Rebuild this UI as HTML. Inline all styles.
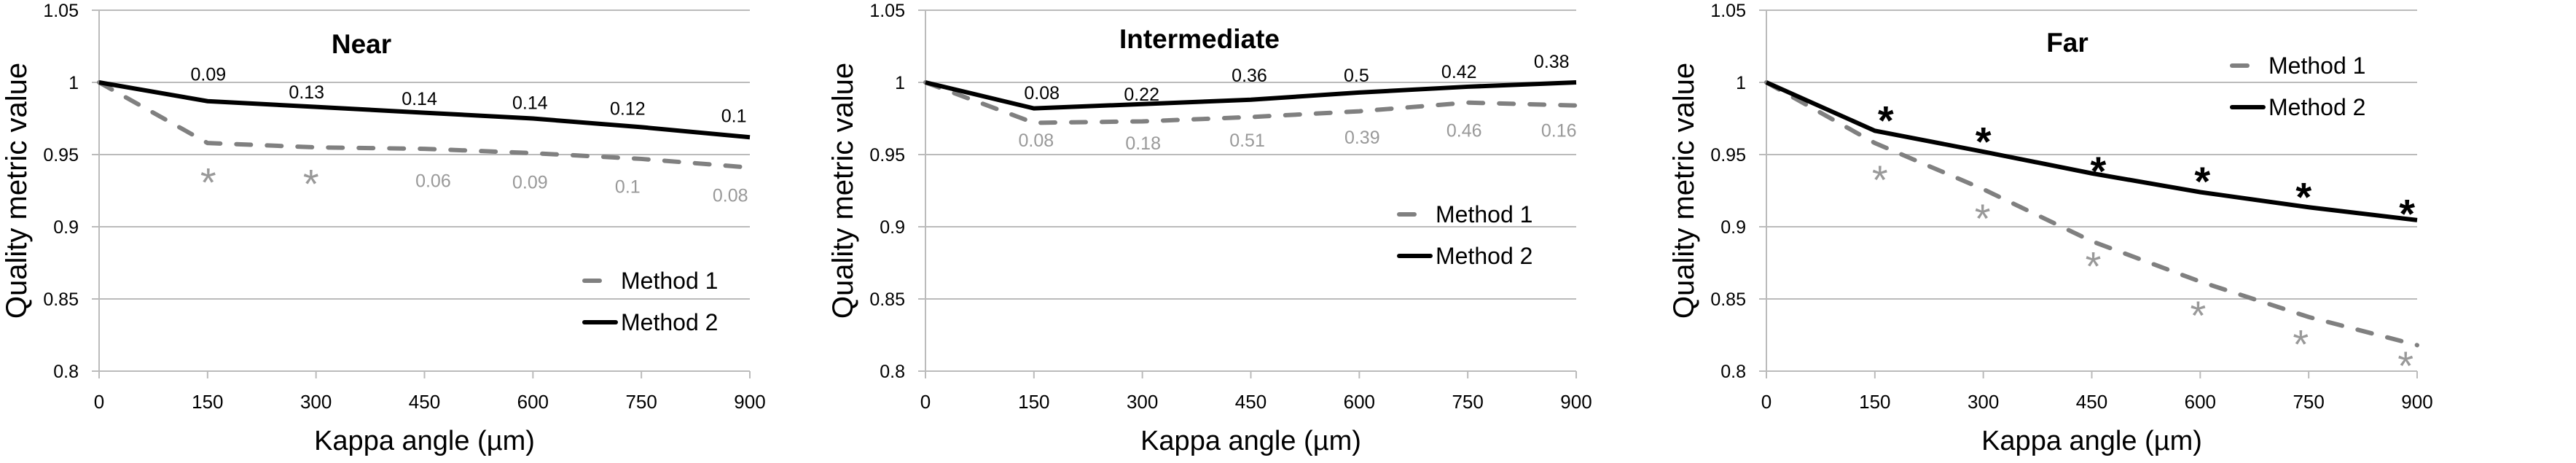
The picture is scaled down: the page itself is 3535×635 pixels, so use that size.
<!DOCTYPE html>
<html><head><meta charset="utf-8"><style>
html,body{margin:0;padding:0;background:#fff;}
svg{display:block;font-family:"Liberation Sans",Arial,sans-serif;}
</style></head><body>
<svg id="chart" width="3535" height="635" viewBox="0 0 3535 635" xmlns="http://www.w3.org/2000/svg"></svg>
<script>
const xTicks = [0,150,300,450,600,750,900];
const yTicks = [0.8,0.85,0.9,0.95,1,1.05];
const yTickLabels = ["0.8","0.85","0.9","0.95","1","1.05"];
const titles = ["Near","Intermediate","Far"];
const nearM1 = [1.0,0.958,0.955,0.954,0.951,0.947,0.941];
const nearM2 = [1.0,0.987,0.983,0.979,0.975,0.969,0.962];
const interM1 = [1.0,0.972,0.973,0.976,0.980,0.986,0.984];
const interM2 = [1.0,0.982,0.985,0.988,0.993,0.997,1.0];
const farM1 = [1.0,0.958,0.926,0.890,0.862,0.8375,0.818];
const farM2 = [1.0,0.9665,0.952,0.937,0.924,0.9135,0.9046];
const nearM2Labels = ["0.09","0.13","0.14","0.14","0.12","0.1"];
const nearM2LabelX = [151,287,443,596,731,878];
const nearM2LabelY = [1.0057,0.9934,0.989,0.986,0.982,0.977];
const nearM1Labels = ["*","*","0.06","0.09","0.1","0.08"];
const nearM1LabelX = [151,293,462,596,731,873];
const nearM1LabelY = [0.937,0.936,0.932,0.931,0.928,0.922];
const interM2Labels = ["0.08","0.22","0.36","0.5","0.42","0.38"];
const interM2LabelX = [161,299,448,596,738,866];
const interM2LabelY = [0.993,0.992,1.005,1.005,1.0077,1.0147];
const interM1Labels = ["0.08","0.18","0.51","0.39","0.46","0.16"];
const interM1LabelX = [153,301,445,604,745,876];
const interM1LabelY = [0.960,0.958,0.960,0.962,0.967,0.967];
const farM2Labels = ["*","*","*","*","*","*"];
const farM2LabelX = [165,300,459,603,743,886];
const farM2LabelY = [0.980,0.9655,0.945,0.938,0.927,0.9155];
const farM1Labels = ["*","*","*","*","*","*"];
const farM1LabelX = [157,299,452,597,739,884];
const farM1LabelY = [0.939,0.912,0.879,0.845,0.825,0.810];

const NS="http://www.w3.org/2000/svg";
const svg=document.getElementById('chart');
const panelX=[136,1270,2424], PW=893, YT=14, YB=509;
const titlePos=[[496,60],[1646,53],[2837,58]];
const legendPos=[[802,385],[1920,294],[3063,90]];
function yS(v){return YT+(1.05-v)/0.25*(YB-YT);}
function mk(tag,attrs,parent){const e=document.createElementNS(NS,tag);for(const k in attrs)e.setAttribute(k,attrs[k]);(parent||svg).appendChild(e);return e;}
const panels=[
 {m1:nearM1,m2:nearM2,l2:[nearM2Labels,nearM2LabelX,nearM2LabelY],l1:[nearM1Labels,nearM1LabelX,nearM1LabelY]},
 {m1:interM1,m2:interM2,l2:[interM2Labels,interM2LabelX,interM2LabelY],l1:[interM1Labels,interM1LabelX,interM1LabelY]},
 {m1:farM1,m2:farM2,l2:[farM2Labels,farM2LabelX,farM2LabelY],l1:[farM1Labels,farM1LabelX,farM1LabelY]}
];
panels.forEach((p,i)=>{
  const x0=panelX[i];
  const xS=v=>x0+v/900*PW;
  const g=mk('g',{});
  
  
  yTicks.forEach((t,j)=>{
    const gl=mk('line',{x1:x0-10,x2:x0+PW,y1:yS(t),y2:yS(t),stroke:'#bbb','stroke-width':2},g);
    
    
    const tl=mk('text',{x:x0-28,y:yS(t)+9,'text-anchor':'end','font-size':25,fill:'#000'},g);
    tl.textContent=yTickLabels[j];
    
    
  });
  const ax=mk('line',{x1:x0,x2:x0,y1:YT,y2:YB+10,stroke:'#bbb','stroke-width':2},g);
  
  
  xTicks.forEach(t=>{
    const tk=mk('line',{x1:xS(t),x2:xS(t),y1:YB,y2:YB+10,stroke:'#bbb','stroke-width':2},g);
    
    
    const tl=mk('text',{x:xS(t),y:560,'text-anchor':'middle','font-size':26,fill:'#000'},g);
    tl.textContent=String(t);
    
    
  });
  const xt=mk('text',{x:x0+PW/2,y:617,'text-anchor':'middle','font-size':38,fill:'#000'},g);
  xt.textContent='Kappa angle (µm)';
  
  
  const ytx=x0-100, yty=(YT+YB)/2;
  const yt=mk('text',{x:ytx,y:yty,'text-anchor':'middle','font-size':40,fill:'#000',transform:`rotate(-90 ${ytx} ${yty})`},g);
  yt.textContent='Quality metric value';
  
  
  const tt=mk('text',{x:titlePos[i][0],y:titlePos[i][1]+13,'text-anchor':'middle','font-size':37,'font-weight':'bold',fill:'#000'},g);
  tt.textContent=titles[i];
  
  
  const pts=arr=>arr.map((v,k)=>xS(xTicks[k])+','+yS(v)).join(' ');
  const l1=mk('polyline',{points:pts(p.m1),fill:'none',stroke:'#808080','stroke-width':6,'stroke-dasharray':'20 22','stroke-linecap':'round'},g);
  
  
  const l2=mk('polyline',{points:pts(p.m2),fill:'none',stroke:'#000','stroke-width':6},g);
  
  
  [[p.l2,'#000','method-2-value-label'],[p.l1,'#999','method-1-value-label']].forEach(([L,col,nm])=>{
    L[0].forEach((s,k)=>{
      const star=s==='*';
      const fs=star?56:25;
      const dy=star?32:9;
      const t=mk('text',{x:xS(L[1][k]),y:yS(L[2][k])+dy,'text-anchor':'middle','font-size':fs,fill:col,'font-weight':(star&&col==='#000')?'bold':'normal'},g);
      t.textContent=s;
      
      
    });
  });
  const [lx,ly]=legendPos[i];
  const lg=mk('g',{},g);
  
  
  mk('line',{x1:lx,x2:lx+21,y1:ly,y2:ly,stroke:'#808080','stroke-width':6,'stroke-linecap':'round'},lg);
  const t1=mk('text',{x:lx+50,y:ly+11,'font-size':32,fill:'#000'},lg);
  t1.textContent='Method 1';
  
  
  mk('line',{x1:lx,x2:lx+43,y1:ly+57,y2:ly+57,stroke:'#000','stroke-width':6,'stroke-linecap':'round'},lg);
  const t2=mk('text',{x:lx+50,y:ly+68,'font-size':32,fill:'#000'},lg);
  t2.textContent='Method 2';
  
  
});
</script>
</body></html>
